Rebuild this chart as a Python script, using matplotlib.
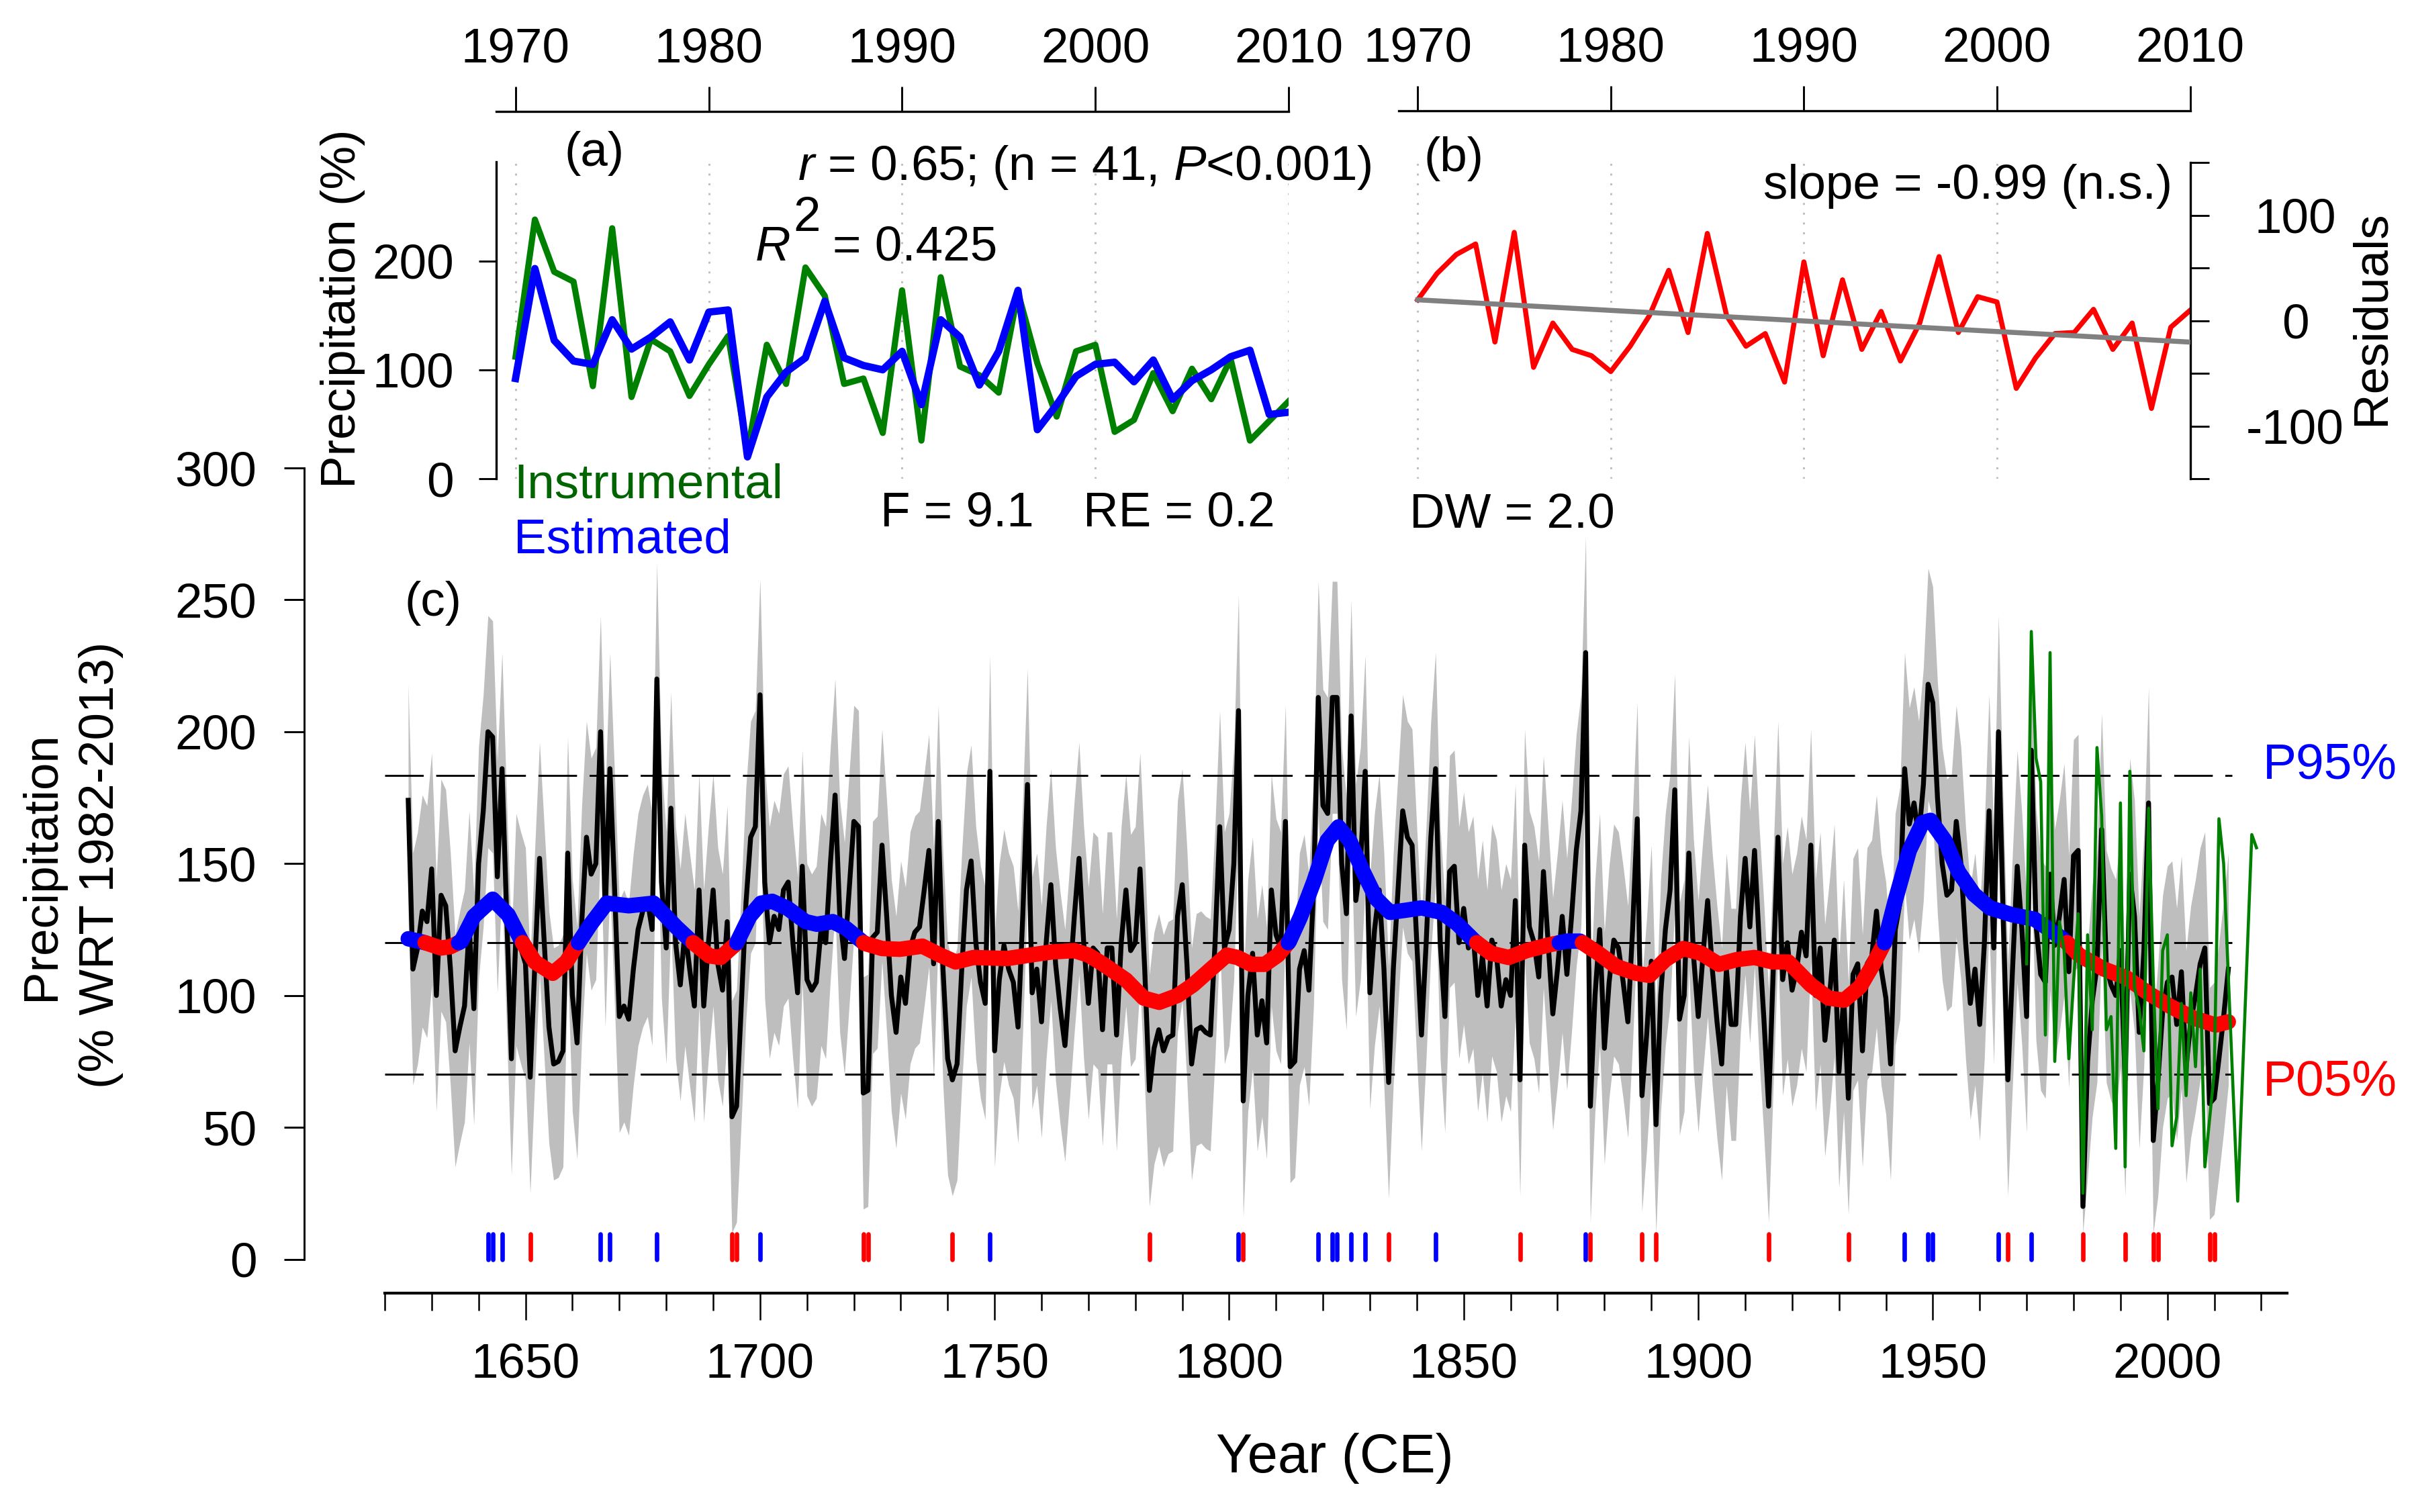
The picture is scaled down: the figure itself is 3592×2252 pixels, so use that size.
import numpy as np
import matplotlib
matplotlib.use("Agg")
import matplotlib.pyplot as plt

plt.rcParams['font.family'] = ['Liberation Sans', 'DejaVu Sans']
plt.rcParams['mathtext.fontset'] = 'custom'
plt.rcParams['mathtext.rm'] = 'Liberation Sans'
plt.rcParams['mathtext.it'] = 'Liberation Sans:italic'

W, H = 3592, 2252  # output size in pixels

# ---- calibration period, panels (a) and (b) ----
cal_years = list(range(1970, 2011))
instrumental = [112, 238, 190, 181, 85, 230, 75, 128, 117, 76,
                105, 131, 25, 123, 87, 194, 168, 87, 92, 42,
                173, 35, 185, 103, 95, 79, 171, 106, 57, 117,
                123, 43, 54, 97, 62, 101, 73, 110, 35, 53,
                71]
estimated = [92, 193, 127, 108, 105, 146, 119, 130, 144, 109,
             153, 155, 20, 75, 98, 111, 163, 111, 104, 100,
             117, 68, 146, 130, 86, 117, 173, 45, 68, 94,
             105, 107, 89, 109, 73, 90, 100, 112, 118, 59,
             61]

# instrumental record after 2010 (only in panel c)
instr_extra_years = [2011, 2012, 2015, 2018, 2019]
instr_extra = [167, 150, 22, 161, 156]

# ---- reconstruction 1625-2013 (panel c) ----
recon_early = [
    174, 110, 118, 132, 128,                               # 1625-1629
    148, 100, 138, 134, 110, 79, 88, 96, 126, 95,          # 1630s
    150, 170, 200, 198, 145, 186, 130, 76, 125, 118,       # 1640s
    112, 69, 112, 152, 120, 88, 74, 75, 79, 154,           # 1650s
    100, 82, 128, 160, 146, 150, 200, 132, 186, 140,       # 1660s
    92, 96, 91, 110, 125, 132, 136, 125, 220, 143,         # 1670s
    118, 171, 120, 104, 125, 110, 96, 140, 96, 120,        # 1680s
    140, 112, 102, 128, 54, 58, 96, 135, 160, 164,         # 1690s
    214, 143, 120, 130, 125, 140, 143, 120, 101, 149,      # 1700s
    106, 102, 105, 125, 120, 150, 176, 130, 114, 140,      # 1710s
    166, 164, 63, 64, 122, 124, 157, 130, 100, 86,         # 1720s
    107, 97, 118, 124, 126, 140, 155, 112, 166, 110,       # 1730s
    76, 68, 74, 110, 140, 151, 120, 105, 97, 185,          # 1740s
    79, 106, 119, 110, 105, 88, 130, 180, 101, 110,        # 1750s
    90, 120, 142, 112, 95, 81, 105, 130, 152, 120,         # 1760s
    97, 118, 116, 87, 118, 118, 85, 120, 140, 117,         # 1770s
    120, 148, 110, 64, 80, 87, 79, 84, 85, 130,            # 1780s
    142, 112, 74, 87, 88, 86, 85, 120, 164, 118,           # 1790s
    125, 150, 208, 60, 100, 116, 85, 98, 82, 140,          # 1800s
    123, 118, 166, 73, 75, 110, 117, 102, 140, 213,        # 1810s
    172, 169, 213, 213, 150, 131, 206, 136, 150, 185,      # 1820s
    101, 125, 140, 110, 67, 110, 140, 170, 160, 157,       # 1830s
    120, 85, 120, 160, 186, 120, 92, 147, 149, 120,        # 1840s
    133, 118, 124, 100, 115, 96, 121, 115, 96, 106,        # 1850s
    100, 136, 68, 157, 126, 120, 107, 147, 120, 93,        # 1860s
    110, 130, 108, 130, 155, 170, 230, 58, 100, 125,       # 1870s
    80, 105, 121, 118, 105, 90, 125, 167, 62, 85,          # 1880s
    113, 51, 100, 125, 140, 178, 91, 100, 154, 115,        # 1890s
    92, 115, 136, 110, 90, 74, 110, 89, 89, 130,           # 1900s
    152, 126, 155, 120, 91, 58, 110, 160, 106, 120,        # 1910s
    102, 110, 124, 115, 157, 100, 118, 83, 100, 121,       # 1920s
    71, 100, 61, 108, 112, 79, 112, 115, 132, 110,         # 1930s
    99, 74, 125, 135, 186, 165, 173, 160, 180, 218,        # 1940s
    211, 175, 150, 138, 140, 166, 150, 120, 97, 110,       # 1950s
    89, 120, 170, 118, 200, 130, 68, 110, 149, 125,        # 1960s
]
recon_late = [76, 92, 110]  # 2011-2013
recon_years = np.arange(1625, 2014)
recon = np.array(recon_early + estimated + recon_late, dtype=float)

band_half = 44      # confidence band half width
band_floor = 10     # lower band does not go below this

# smoothed reconstruction
smooth_years = [1625, 1628.6, 1632, 1634, 1636.3, 1639, 1643, 1646.3, 1649.2, 1652,
                1655.8, 1658.7, 1661.3, 1663.9, 1667.3, 1672, 1677.3, 1682.1, 1685.4, 1689.2,
                1691.6, 1695, 1697.8, 1700.2, 1702.6, 1705.9, 1709.7, 1712.1, 1715.5, 1718.3,
                1722.2, 1726, 1729.8, 1734.6, 1738.4, 1741.7, 1745.5, 1752.7, 1757.5, 1762.2,
                1767, 1770, 1773.2, 1778, 1781.8, 1785.1, 1789, 1792.3, 1796.1, 1799.5,
                1801.8, 1804.7, 1807.6, 1810.4, 1812.8, 1815.2, 1818.1, 1820.9, 1823.3, 1825.7,
                1828.6, 1831.4, 1834.3, 1837.6, 1841, 1845.3, 1848.6, 1852.4, 1855.8, 1859.6,
                1863.4, 1868.2, 1872, 1874.8, 1878.7, 1882.5, 1886.8, 1889.6, 1893, 1896.8,
                1900.6, 1904.4, 1908.2, 1912, 1915.9, 1919.2, 1924, 1927.8, 1931.1, 1934.5,
                1937.3, 1939.7, 1942.1, 1945, 1947.8, 1949.5, 1952.6, 1955.5, 1958.8, 1962.2,
                1966.9, 1971.7, 1976.5, 1978.4, 1981.2, 1986.5, 1991.3, 1996, 2000.8, 2005.6,
                2010.3, 2013]
smooth_vals = [121.5, 120, 118, 118.5, 120.5, 130, 136.5, 130.6, 120.5, 112.7,
               108.4, 112.7, 120, 127, 135, 134, 135, 126, 120.5, 115,
               114.4, 119.8, 130, 135, 135.7, 133, 128, 127, 128, 125.5,
               119.8, 117.8, 117.5, 118.7, 115.3, 112.7, 114.4, 114, 115.3, 116.5,
               117, 115.3, 111.8, 105.9, 99, 97.4, 100, 104, 110, 115.3,
               114.4, 111.8, 111.8, 115.3, 120.4, 129.8, 143.4, 158.7, 163.9, 158.7,
               146.8, 136.6, 131.5, 132.3, 133.2, 131.5, 127.2, 120.5, 116, 114.4,
               117, 119.2, 120.6, 120.6, 116, 111, 108.4, 107.6, 113.6, 117.8,
               116, 111.8, 113.6, 114.4, 112.7, 112.7, 104, 99, 98.2, 103.3,
               111.8, 120, 136.6, 155, 165.5, 166.4, 158.7, 146.8, 138.3, 133.2,
               130.6, 128.9, 123, 120.4, 115.3, 110, 106.7, 100.8, 95.7, 91.4,
               88.8, 90]

# extreme years (above P95 / below P05)
wet_years = [1642, 1643, 1645, 1666, 1668, 1678, 1700, 1749, 1802, 1819, 1822, 1823,
             1826, 1829, 1844, 1876, 1944, 1949, 1950, 1964, 1971]
dry_years = [1651, 1694, 1695, 1722, 1723, 1741, 1783, 1803, 1834, 1862, 1877, 1888,
             1891, 1915, 1932, 1966, 1982, 1991, 1997, 1998, 2009, 2010]

p95, p_mean, p05 = 183.3, 120.0, 70.1

GREEN = '#008000'
FS = 17.5

fig = plt.figure(figsize=(W / 300, H / 300), dpi=300)


def rect(x0, y0, x1, y1):
    return [x0 / W, 1 - y1 / H, (x1 - x0) / W, (y1 - y0) / H]


def ftext(x, y, s, **kw):
    kw.setdefault('fontsize', FS)
    fig.text(x / W, 1 - y / H, s, **kw)


# ================= panel (a) =================
axa = fig.add_axes(rect(739, 241, 1919, 713))
axa.set_facecolor('none')
axa.set_xlim(1969, 2010)
axa.set_ylim(0, 291)
for x in range(1970, 2011, 10):
    axa.axvline(x, color='#BEBEBE', lw=0.7, ls=(0, (1, 4)), zorder=0)
axa.plot(cal_years, instrumental, color=GREEN, lw=2.2, zorder=2)
axa.plot(cal_years, estimated, color='blue', lw=2.6, zorder=3)
axa.spines['right'].set_visible(False)
axa.spines['bottom'].set_visible(False)
axa.spines['left'].set_bounds(0, 291)
axa.spines['top'].set_position(('outward', 18))
axa.spines['top'].set_bounds(1969, 2010)
axa.xaxis.tick_top()
axa.set_xticks(range(1970, 2011, 10))
axa.tick_params(axis='x', length=9, width=0.7, pad=5, labelsize=FS)
axa.set_yticks([0, 100, 200])
axa.tick_params(axis='y', length=6.2, width=0.7, pad=9, labelsize=FS)

# ================= panel (b) =================
residuals = np.array(instrumental) - np.array(estimated)
slope, icpt = np.polyfit(cal_years, residuals, 1)
axb = fig.add_axes(rect(2082.5, 242.5, 3261.5, 713.5))
axb.set_facecolor('none')
axb.set_xlim(1969, 2010)
axb.set_ylim(-150, 150)
for x in range(1970, 2001, 10):
    axb.axvline(x, color='#BEBEBE', lw=0.7, ls=(0, (1, 4)), zorder=0)
axb.plot(cal_years, residuals, color='red', lw=1.8, zorder=2)
fit_x = np.array([1970, 2010])
axb.plot(fit_x, icpt + slope * fit_x, color='#808080', lw=1.8, zorder=3)
axb.spines['left'].set_visible(False)
axb.spines['bottom'].set_visible(False)
axb.spines['right'].set_bounds(-150, 150)
axb.spines['top'].set_position(('outward', 18.6))
axb.spines['top'].set_bounds(1969, 2010)
axb.xaxis.tick_top()
axb.set_xticks(range(1970, 2011, 10))
axb.tick_params(axis='x', length=9, width=0.7, pad=5, labelsize=FS)
axb.yaxis.tick_right()
axb.set_yticks(range(-150, 151, 50))
axb.set_yticklabels(['', '-100', '', '0', '', '100', ''])
axb.tick_params(axis='y', length=6.6, width=0.7, pad=31, labelsize=FS)
for lab in axb.get_yticklabels():
    lab.set_horizontalalignment('center')

# ================= panel (c) =================
axc = fig.add_axes(rect(573, 697, 3405.8, 1875.5))
axc.set_facecolor('none')
axc.set_xlim(1620, 2025.5)
axc.set_ylim(0, 300)

lower = np.maximum(recon - band_half, band_floor)
upper = recon + band_half
axc.fill_between(recon_years, lower, upper, color='#BEBEBE', lw=0, zorder=1)

for lev in (p95, p_mean, p05):
    axc.hlines(lev, 1620, 2013.8, color='black', lw=0.7,
               linestyles=[(0, (19.7, 6.4))], zorder=2)

axc.plot(recon_years, recon, color='black', lw=1.75, zorder=3)


def split_runs(xs, ys, thr):
    runs = []
    cx, cy = [xs[0]], [ys[0]]
    above = ys[0] >= thr
    for i in range(1, len(xs)):
        a = ys[i] >= thr
        if a != above:
            t = (thr - ys[i - 1]) / (ys[i] - ys[i - 1])
            xc = xs[i - 1] + t * (xs[i] - xs[i - 1])
            cx.append(xc)
            cy.append(thr)
            runs.append((cx, cy, above))
            cx, cy = [xc], [thr]
            above = a
        cx.append(xs[i])
        cy.append(ys[i])
    runs.append((cx, cy, above))
    return runs


for rx, ry, above in split_runs(smooth_years, smooth_vals, p_mean):
    axc.plot(rx, ry, color='blue' if above else 'red', lw=5.5,
             solid_capstyle='round', zorder=4)

axc.plot(cal_years + instr_extra_years, instrumental + instr_extra,
         color=GREEN, lw=1.1, zorder=5)

axc.vlines(wet_years, 0, 9.5, color='blue', lw=1.6, capstyle='round',
           zorder=6, clip_on=False)
axc.vlines(dry_years, 0, 9.5, color='red', lw=1.6, capstyle='round',
           zorder=6, clip_on=False)

axc.spines['top'].set_visible(False)
axc.spines['right'].set_visible(False)
axc.spines['left'].set_position(('outward', 28.9))
axc.spines['left'].set_bounds(0, 300)
axc.spines['left'].set_linewidth(0.7)
axc.spines['bottom'].set_position(('outward', 12.1))
axc.spines['bottom'].set_bounds(1620, 2025.5)
axc.spines['bottom'].set_linewidth(1.0)
axc.set_yticks(range(0, 301, 50))
axc.set_xticks(range(1650, 2001, 50))
axc.set_xticks(range(1620, 2021, 10), minor=True)
axc.tick_params(axis='x', which='major', length=9.6, width=0.6, pad=8, labelsize=FS)
axc.tick_params(axis='x', which='minor', length=6.2, width=0.6)
axc.tick_params(axis='y', length=7.3, width=0.7, pad=9.5, labelsize=FS)

# ================= texts =================
ftext(885, 229, '(a)', ha='center', va='center')
ftext(2042, 268, r'$r$ = 0.65; (n = 41, $P$<0.001)', ha='right', va='baseline')
ftext(1125, 388, 'R', style='italic', ha='left', va='baseline')
ftext(1181, 344, '2', ha='left', va='baseline')
ftext(1240, 388, '= 0.425', ha='left', va='baseline')
ftext(765, 741, 'Instrumental', color='#006400', ha='left', va='baseline')
ftext(765, 824, 'Estimated', color='blue', ha='left', va='baseline')
ftext(1311, 783, 'F = 9.1', ha='left', va='baseline')
ftext(1613, 783, 'RE = 0.2', ha='left', va='baseline')
ftext(2099, 786, 'DW = 2.0', ha='left', va='baseline')
ftext(511, 460, 'Precipitation (%)', rotation=90, ha='center', va='center')

ftext(2165, 237, '(b)', ha='center', va='center')
ftext(3235, 296, 'slope = -0.99 (n.s.)', ha='right', va='baseline')
ftext(3532, 473, 'Residuals', rotation=90, ha='center', va='center')

ftext(645, 899, '(c)', ha='center', va='center')
ftext(3370, 1160, 'P95%', color='blue', ha='left', va='baseline', fontsize=18)
ftext(3370, 1632, 'P05%', color='red', ha='left', va='baseline', fontsize=18)
ftext(63, 1290, 'Precipitation', rotation=90, ha='center', va='center')
ftext(151, 1288, '(% WRT 1982-2013)', rotation=90, ha='center', va='center')
ftext(1988, 2172, 'Year (CE)', ha='center', va='center', fontsize=19.5)

fig.savefig('out.png', dpi=300)
